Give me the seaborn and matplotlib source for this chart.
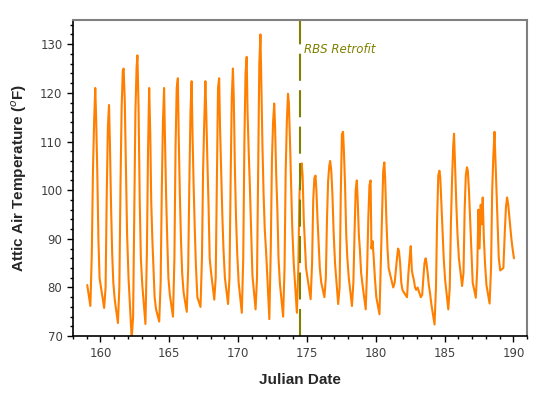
#!/usr/bin/env python3
"""Attic air temperature before and after the RBS retrofit (Julian days 159-190)."""

import matplotlib
matplotlib.use("Agg")
import matplotlib.pyplot as plt
from matplotlib.ticker import MultipleLocator
import pandas as pd
import seaborn as sns

READ_HOURS = [1, 6.5, 9, 11, 13, 15, 16.5, 18.5, 20.5, 22.5]

# Attic air temperature (F), one row per day, days 159..174
TEMPS_BEFORE = [
    [80.5, 76.2, 87, 104, 114, 121, 115, 104, 90, 82],
    [80, 75.8, 80, 99, 113, 117.5, 110, 97, 87, 81],
    [77.5, 72.7, 80, 101, 117, 124.5, 125, 118, 104, 91],
    [82, 69.5, 74, 95, 116, 125, 127.7, 117, 98, 86],
    [80.5, 72.5, 87, 108, 121, 111, 98, 90, 84, 78],
    [75.5, 73, 81, 100, 114, 121, 111, 99, 90, 82],
    [78.5, 74, 86, 109, 121, 123, 111, 99, 89.5, 83],
    [79, 75, 84, 101, 116, 122.4, 112, 101, 92, 84.5],
    [78, 76, 86, 104, 114, 122.4, 116, 106, 97, 86],
    [83, 77.5, 82, 102, 121, 123, 113, 104, 95, 88],
    [82, 76.6, 82, 102, 119, 125, 119, 104, 94, 87],
    [81, 74.8, 86, 110, 124, 127.4, 116, 108, 101, 93],
    [82.5, 75.5, 82, 105, 126, 132, 122, 109, 99, 92],
    [87, 73.5, 88, 106, 114, 117.8, 113, 103, 96, 86],
    [80.7, 74, 84, 104, 114, 119.8, 118, 110, 101, 92],
    [85, 74.8, 84, 99, 104, 105.5, 103, 94, 89, 84],
]

# Days 175..189
TEMPS_AFTER = [
    [82, 77.6, 85, 98, 102.5, 103, 100, 94, 89, 84],
    [81, 78, 82, 94, 102, 105, 106, 104, 99, 91.6],
    [85, 76.6, 80, 99, 111.5, 112, 108, 101, 91, 86],
    [82, 76.2, 81, 91, 100, 102, 98, 91, 87.5, 83],
    [80.5, 75.5, 84, 94, 101, 102, 88, 89.5, 86, 82],
    [78, 74.5, 86, 96, 104, 105.7, 102, 94, 88, 84],
    [82.7, 80, 81, 83.5, 86, 88, 87.5, 85, 81, 79.5],
    [79, 78, 83, 86, 88.5, 83.5, 82.5, 81.5, 80, 79.5],
    [80, 78, 78.5, 82, 85, 86, 85, 83, 80.5, 79],
    [76.5, 72.4, 80, 94, 103, 104, 102.6, 97, 91, 86],
    [81.5, 75.5, 80, 93, 102, 109, 111.6, 104, 97, 91],
    [86, 80.3, 83, 96, 103, 104.7, 104, 100, 94, 87.5],
    [81, 77.9, 84, 96, 88, 97, 93, 98.5, 90, 85],
    [80.5, 76.7, 84, 100, 107, 112, 107, 100, 93, 86],
    [83.5, 84, 91.5, 96.5, 98.5, 97, 95, 92.5, 90, 88],
]

FIRST_DAY = 159
LAST_READING = (190.04, 86.0)
RETROFIT_DAY = 174.5

LINE_COLOR = "#FF8000"
RETROFIT_COLOR = "#808000"


def build_frame() -> pd.DataFrame:
    rows = []
    for i, temps in enumerate(TEMPS_BEFORE + TEMPS_AFTER):
        day = FIRST_DAY + i
        for hour, temp in zip(READ_HOURS, temps):
            rows.append((day + hour / 24.0, temp))
    rows.append(LAST_READING)
    return pd.DataFrame(rows, columns=["julian", "temp"])


def main() -> None:
    df = build_frame()

    sns.set_style("ticks")
    plt.rcParams["font.family"] = ["DejaVu Sans"]

    fig = plt.figure(figsize=(5.48, 4.05), dpi=100)
    ax = fig.add_axes([0.133, 0.170, 0.829, 0.781])

    sns.lineplot(data=df, x="julian", y="temp", color=LINE_COLOR, linewidth=1.5,
                 estimator=None, ax=ax)

    ax.axvline(RETROFIT_DAY, color=RETROFIT_COLOR, linewidth=1.5, dashes=(13, 4.5))
    ax.text(RETROFIT_DAY + 0.3, 129, "RBS Retrofit", color=RETROFIT_COLOR,
            fontsize=8.5, style="italic", va="center", ha="left")

    ax.set_xlim(158, 191)
    ax.set_ylim(70, 135)
    ax.xaxis.set_major_locator(MultipleLocator(5))
    ax.xaxis.set_minor_locator(MultipleLocator(1))
    ax.yaxis.set_major_locator(MultipleLocator(10))
    ax.yaxis.set_minor_locator(MultipleLocator(2))
    ax.set_yticks(range(70, 131, 10))
    ax.tick_params(which="major", length=4, width=1, labelsize=8.5,
                   labelcolor="#404040", color="black")
    ax.tick_params(which="minor", length=2.5, width=1, color="black")

    for side in ("left", "bottom"):
        ax.spines[side].set_color("black")
        ax.spines[side].set_linewidth(1.2)
    for side in ("top", "right"):
        ax.spines[side].set_visible(True)
        ax.spines[side].set_color("#808080")
        ax.spines[side].set_linewidth(1.5)

    label_font = {"family": "Liberation Sans", "weight": "bold", "size": 11}
    ax.set_xlabel("Julian Date", fontdict=label_font, labelpad=10)
    ax.set_ylabel("Attic Air Temperature ($^{o}$F)", fontdict=label_font, labelpad=8)

    fig.savefig("out.png", dpi=100)
    plt.close(fig)


if __name__ == "__main__":
    main()
